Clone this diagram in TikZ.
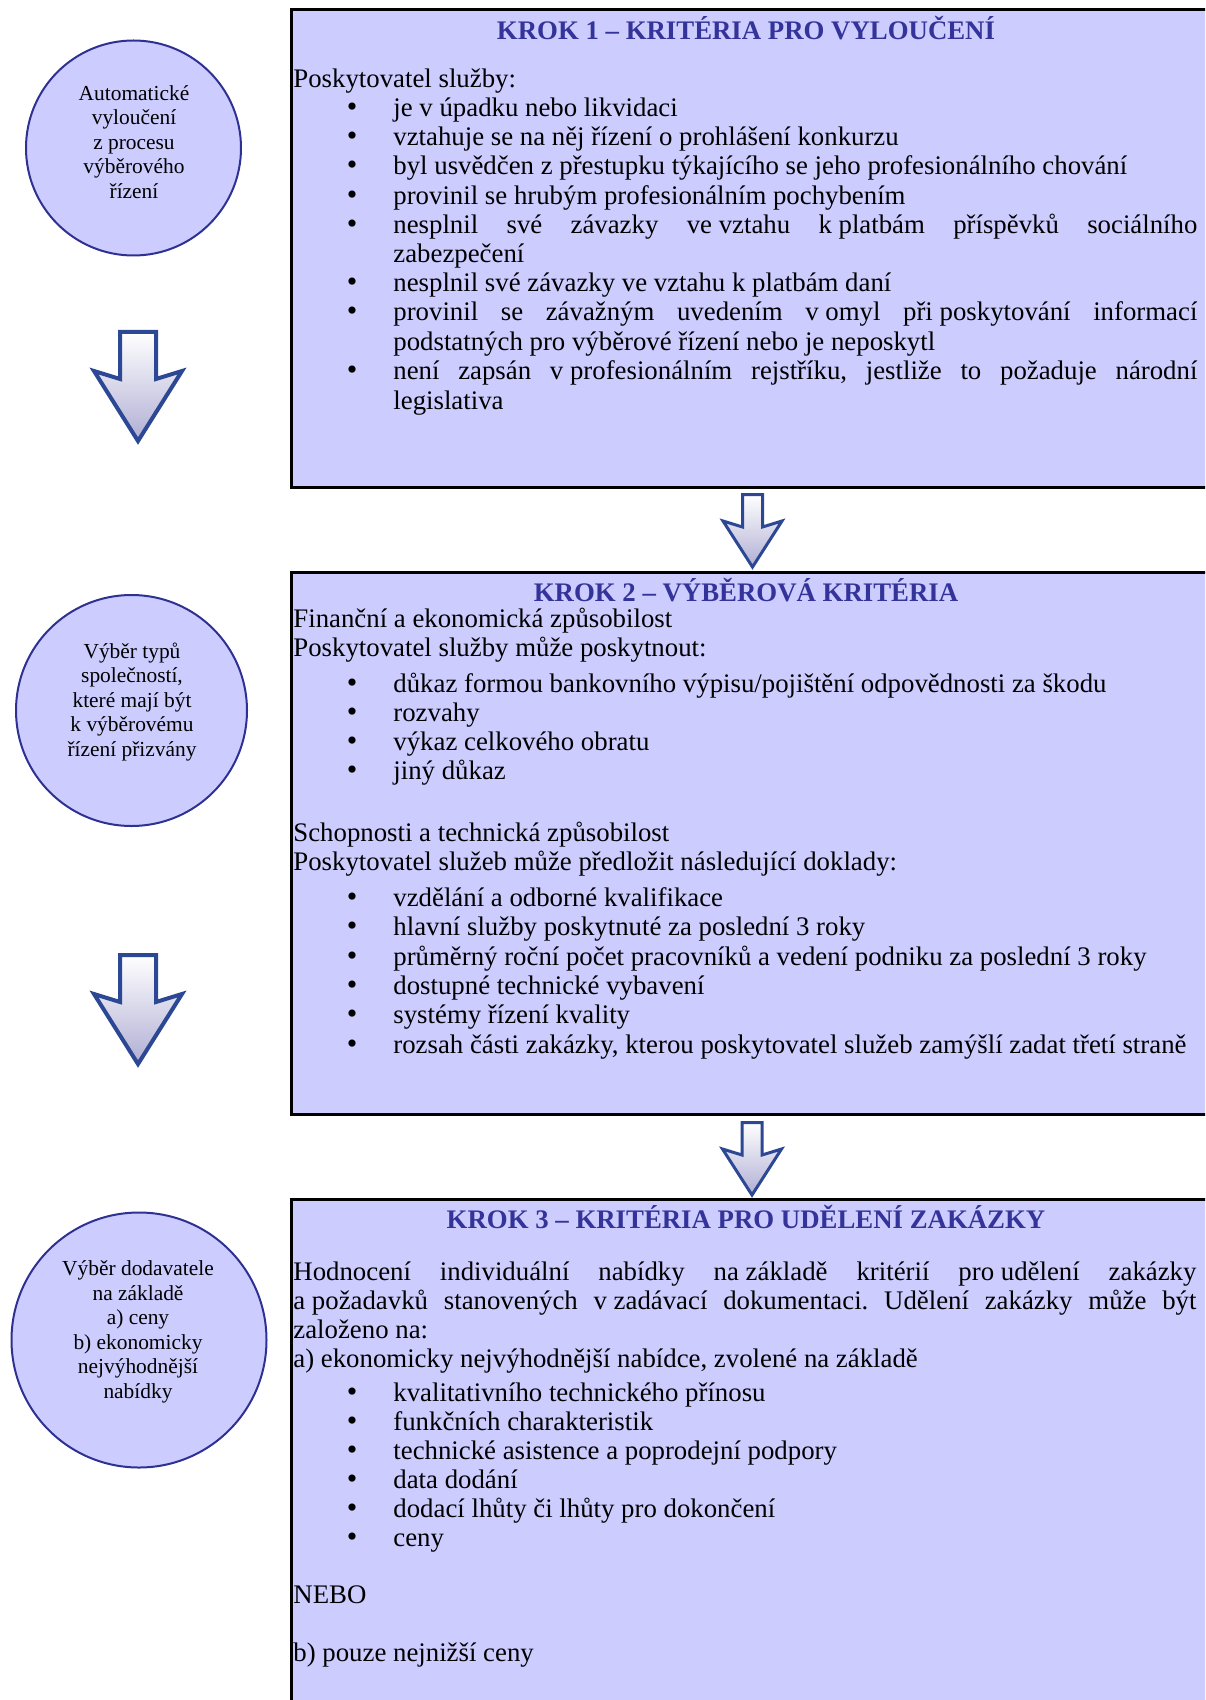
\documentclass[tikz,border=0pt]{standalone}
\usepackage{fontspec}
\setmainfont{Liberation Serif}
\frenchspacing
\definecolor{boxfill}{RGB}{204,204,255}
\definecolor{titleblue}{RGB}{51,51,153}
\definecolor{circedge}{RGB}{46,49,146}
\definecolor{arrowedge}{RGB}{44,72,148}
\definecolor{arrowtop}{RGB}{176,174,212}
\newcommand{\nbs}{\hspace{0.25em}}
\newcommand{\jusline}[1]{\makebox[402pt][s]{#1}}
\newcommand{\fulline}[1]{\makebox[451.5pt][s]{#1}}
\newcommand{\bulline}[3]{%
  \node[dot] (#1d) at (352,#2) {•};
  \node[body] (#1) at (393,#2) {#3};}
\begin{document}
\begin{tikzpicture}[x=0.5pt,y=-0.5pt,
  panel/.style={draw=black, line width=1.5pt, fill=boxfill},
  stage/.style={circle, draw=circedge, line width=1pt, fill=boxfill, inner sep=0pt},
  stagetext/.style={font=\fontsize{10.7}{12.25}\selectfont, align=center, inner sep=0pt},
  heading/.style={font=\bfseries\fontsize{13.4}{14.6}\selectfont, text=titleblue, anchor=base, inner sep=0pt},
  body/.style={font=\fontsize{13.4}{14.6}\selectfont, anchor=base west, inner sep=0pt},
  dot/.style={font=\fontsize{15}{15}\selectfont, anchor=base, inner sep=0pt},
  arrowpaint/.style={draw=arrowedge, miter limit=4, top color=white, middle color=white, bottom color=arrowtop},
  bigarrow/.pic={\draw[arrowpaint, line width=2pt]
     (-18,2) -- (18,2) -- (18,49) -- (44,41) -- (0,111) -- (-44,41) -- (-18,49) -- cycle;},
  smallarrow/.pic={\draw[arrowpaint, line width=1.5pt]
     (-10,1.5) -- (10,1.5) -- (10,34) -- (29.5,28) -- (0,74) -- (-29.5,28) -- (-10,34) -- cycle;}
]
\path[use as bounding box] (0,0) rectangle (1205,1700);
\clip (0,0) rectangle (1205,1700);
\fill[white] (0,0) rectangle (1205,1700);

% panels
\draw[panel] (291,10) rectangle (1222,487);
\draw[panel] (291,572) rectangle (1222,1114);
\draw[panel] (291,1199) rectangle (1222,1712);

% stage circles
\node[stage, minimum size=107.5pt] (c1) at (133.5,148) {};
\node[stagetext] (c1t) at (134,142) {Automatické\\vyloučení\\z procesu\\výběrového\\řízení};
\node[stage, minimum size=115.5pt] (c2) at (131.5,710.5) {};
\node[stagetext] (c2t) at (132,702) {Výběr typů\\společností,\\které mají být\\k výběrovému\\řízení přizvány};
\node[stage, minimum size=127.5pt] (c3) at (139,1340) {};
\node[stagetext] (c3t) at (138,1332) {Výběr dodavatele\\na základě\\a) ceny\\b) ekonomicky\\nejvýhodnější\\nabídky};

% arrows
\pic at (138,330) {bigarrow};
\pic at (138,953) {bigarrow};
\pic at (752.5,493) {smallarrow};
\pic at (752,1121) {smallarrow};

% box 1
\node[heading] (t1) at (746,40) {KROK 1 – KRITÉRIA PRO VYLOUČENÍ};
\node[body] (p1) at (293,88) {Poskytovatel služby:};
\bulline{a1}{117}{je v úpadku nebo likvidaci}
\bulline{a2}{146}{vztahuje se na něj řízení o prohlášení konkurzu}
\bulline{a3}{175}{byl usvědčen z přestupku týkajícího se jeho profesionálního chování}
\bulline{a4}{205}{provinil se hrubým profesionálním pochybením}
\bulline{a5}{234}{\jusline{nesplnil své závazky ve\nbs vztahu k\nbs platbám příspěvků sociálního}}
\node[body] (a5b) at (393,263) {zabezpečení};
\bulline{a6}{292}{nesplnil své závazky ve vztahu k platbám daní}
\bulline{a7}{321}{\jusline{provinil se závažným uvedením v\nbs omyl při\nbs poskytování informací}}
\node[body] (a7b) at (393,351) {podstatných pro výběrové řízení nebo je neposkytl};
\bulline{a8}{380}{\jusline{není zapsán v\nbs profesionálním rejstříku, jestliže to požaduje národní}}
\node[body] (a8b) at (393,409) {legislativa};

% box 2
\node[heading] (t2) at (746,601) {KROK 2 – VÝBĚROVÁ KRITÉRIA};
\node[body] (f1) at (293,627) {Finanční a ekonomická způsobilost};
\node[body] (f2) at (293,656) {Poskytovatel služby může poskytnout:};
\bulline{b1}{692}{důkaz formou bankovního výpisu/pojištění odpovědnosti za škodu}
\bulline{b2}{721}{rozvahy}
\bulline{b3}{750}{výkaz celkového obratu}
\bulline{b4}{779}{jiný důkaz}
\node[body] (s1) at (293,841) {Schopnosti a technická způsobilost};
\node[body] (s2) at (293,870) {Poskytovatel služeb může předložit následující doklady:};
\bulline{b5}{906}{vzdělání a odborné kvalifikace}
\bulline{b6}{935}{hlavní služby poskytnuté za poslední 3 roky}
\bulline{b7}{965}{průměrný roční počet pracovníků a vedení podniku za poslední 3 roky}
\bulline{b8}{994}{dostupné technické vybavení}
\bulline{b9}{1023}{systémy řízení kvality}
\bulline{b10}{1053}{rozsah části zakázky, kterou poskytovatel služeb zamýšlí zadat třetí straně}

% box 3
\node[heading] (t3) at (746,1228) {KROK 3 – KRITÉRIA PRO UDĚLENÍ ZAKÁZKY};
\node[body] (h1) at (293,1280) {\fulline{Hodnocení individuální nabídky na\nbs základě kritérií pro\nbs udělení zakázky}};
\node[body] (h2) at (293,1309) {\fulline{a\nbs požadavků stanovených v\nbs zadávací dokumentaci. Udělení zakázky může být}};
\node[body] (h3) at (293,1338) {založeno na:};
\node[body] (h4) at (293,1367) {a) ekonomicky nejvýhodnější nabídce, zvolené na základě};
\bulline{k1}{1401}{kvalitativního technického přínosu}
\bulline{k2}{1430}{funkčních charakteristik}
\bulline{k3}{1459}{technické asistence a poprodejní podpory}
\bulline{k4}{1488}{data dodání}
\bulline{k5}{1517}{dodací lhůty či lhůty pro dokončení}
\bulline{k6}{1546}{ceny}
\node[body] (nebo) at (293,1603) {NEBO};
\node[body] (bonly) at (293,1661) {b) pouze nejnižší ceny};
\end{tikzpicture}
\end{document}
